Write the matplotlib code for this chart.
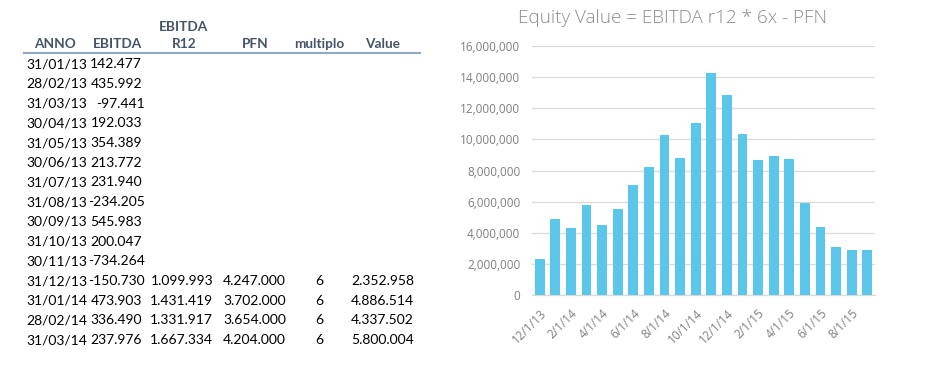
import matplotlib
matplotlib.use("Agg")
import matplotlib.pyplot as plt
from matplotlib.ticker import FuncFormatter

# ---------------- data ----------------
table_dates = ["31/01/13", "28/02/13", "31/03/13", "30/04/13", "31/05/13", "30/06/13",
               "31/07/13", "31/08/13", "30/09/13", "31/10/13", "30/11/13", "31/12/13",
               "31/01/14", "28/02/14", "31/03/14"]
table_ebitda = [142477, 435992, -97441, 192033, 354389, 213772, 231940, -234205,
                545983, 200047, -734264, -150730, 473903, 336490, 237976]
table_r12 = [None] * 11 + [1099993, 1431419, 1331917, 1667334]
table_pfn = [None] * 11 + [4247000, 3702000, 3654000, 4204000]
table_mult = [None] * 11 + [6, 6, 6, 6]
table_value = [None] * 11 + [2352958, 4886514, 4337502, 5800004]
header_top = ["", "", "EBITDA", "", "", ""]
header_bottom = ["ANNO", "EBITDA", "R12", "PFN", "multiplo", "Value"]

chart_title = "Equity Value = EBITDA r12 * 6x - PFN"
bar_labels = ["12/1/13", "1/1/14", "2/1/14", "3/1/14", "4/1/14", "5/1/14", "6/1/14",
              "7/1/14", "8/1/14", "9/1/14", "10/1/14", "11/1/14", "12/1/14", "1/1/15",
              "2/1/15", "3/1/15", "4/1/15", "5/1/15", "6/1/15", "7/1/15", "8/1/15", "9/1/15"]
bar_values = [2352958, 4886514, 4337502, 5800004, 4510000, 5560000, 7100000, 8240000,
              10270000, 8810000, 11040000, 14250000, 12880000, 10330000, 8680000,
              8920000, 8770000, 5940000, 4400000, 3100000, 2910000, 2890000]
y_ticks = [0, 2000000, 4000000, 6000000, 8000000, 10000000, 12000000, 14000000, 16000000]

# ---------------- figure ----------------
W, H = 932, 368
fig = plt.figure(figsize=(W / 100, H / 100), dpi=100)
fig.patch.set_facecolor("white")

def px(x, y):
    return x / W, 1 - y / H

def it_fmt(v):
    s = f"{abs(v):,}".replace(",", ".")
    return ("-" if v < 0 else "") + s

TFONT = ["Lato", "DejaVu Sans"]
HEAD_COLOR = "#44546A"
TS = 10

# header
head_x = [55, 117, 184, 255, 319, 383]
for hx, t1, t2 in zip(head_x, header_top, header_bottom):
    if t1:
        fig.text(*px(hx, 27), t1, ha="center", va="center", fontsize=9.8,
                 fontweight="bold", color=HEAD_COLOR, family=TFONT)
    fig.text(*px(hx, 44), t2, ha="center", va="center", fontsize=9.8,
             fontweight="bold", color=HEAD_COLOR, family=TFONT)
fig.add_artist(plt.Line2D([24 / W, 420 / W], [1 - 52.5 / H, 1 - 52.5 / H],
                          color="#8EA9C8", lw=1.5))

row0, dy = 64.3, 19.7
for i, d in enumerate(table_dates):
    y = row0 + i * dy
    fig.text(*px(26, y), d, ha="left", va="center", fontsize=TS, color="black", family=TFONT)
    e = table_ebitda[i]
    fig.text(*px(142 if e >= 0 else 145, y), it_fmt(e), ha="right", va="center",
             fontsize=TS, color="black", family=TFONT)
    if table_r12[i] is not None:
        fig.text(*px(213, y), it_fmt(table_r12[i]), ha="right", va="center",
                 fontsize=TS, color="black", family=TFONT)
    if table_pfn[i] is not None:
        fig.text(*px(286, y), it_fmt(table_pfn[i]), ha="right", va="center",
                 fontsize=TS, color="black", family=TFONT)
    if table_mult[i] is not None:
        fig.text(*px(319, y), str(table_mult[i]), ha="center", va="center",
                 fontsize=TS, color="black", family=TFONT)
    if table_value[i] is not None:
        fig.text(*px(414, y), it_fmt(table_value[i]), ha="right", va="center",
                 fontsize=TS, color="black", family=TFONT)

# ---------------- chart ----------------
CFONT = ["Open Sans", "DejaVu Sans"]
GRAY = "#7F7F7F"
left, right, top, bottom = 532, 875, 46, 295.3
ax = fig.add_axes([left / W, 1 - bottom / H, (right - left) / W, (bottom - top) / H])
xs = list(range(len(bar_values)))
ax.bar(xs, bar_values, width=0.63, color="#5BC5EA", zorder=3)
ax.set_xlim(-0.5, len(bar_values) - 0.5)
ax.set_ylim(0, 16000000)
ax.set_yticks(y_ticks)
ax.yaxis.set_major_formatter(FuncFormatter(lambda v, p: f"{int(v):,}"))
ax.grid(axis="y", color="#D9D9D9", lw=0.9, zorder=0)
for s in ["left", "right", "top"]:
    ax.spines[s].set_visible(False)
ax.spines["bottom"].set_color("#D9D9D9")
ax.spines["bottom"].set_linewidth(0.9)
ax.tick_params(axis="both", length=0, colors=GRAY, labelsize=8.5)
ax.tick_params(axis="y", pad=8.5)
ax.set_xticks(xs[::2])
ax.set_xticklabels(bar_labels[::2], rotation=45, ha="right", rotation_mode="anchor",
                   family=CFONT, color=GRAY, fontsize=8.5)
for lab in ax.get_yticklabels():
    lab.set_family(CFONT)
ax.tick_params(axis="x", pad=8)
fig.text(*px(672, 18), chart_title, ha="center", va="center", fontsize=13.6,
         color="#8C8C8C", family=CFONT, fontweight="light")

fig.savefig("out.png", dpi=100, facecolor="white")
